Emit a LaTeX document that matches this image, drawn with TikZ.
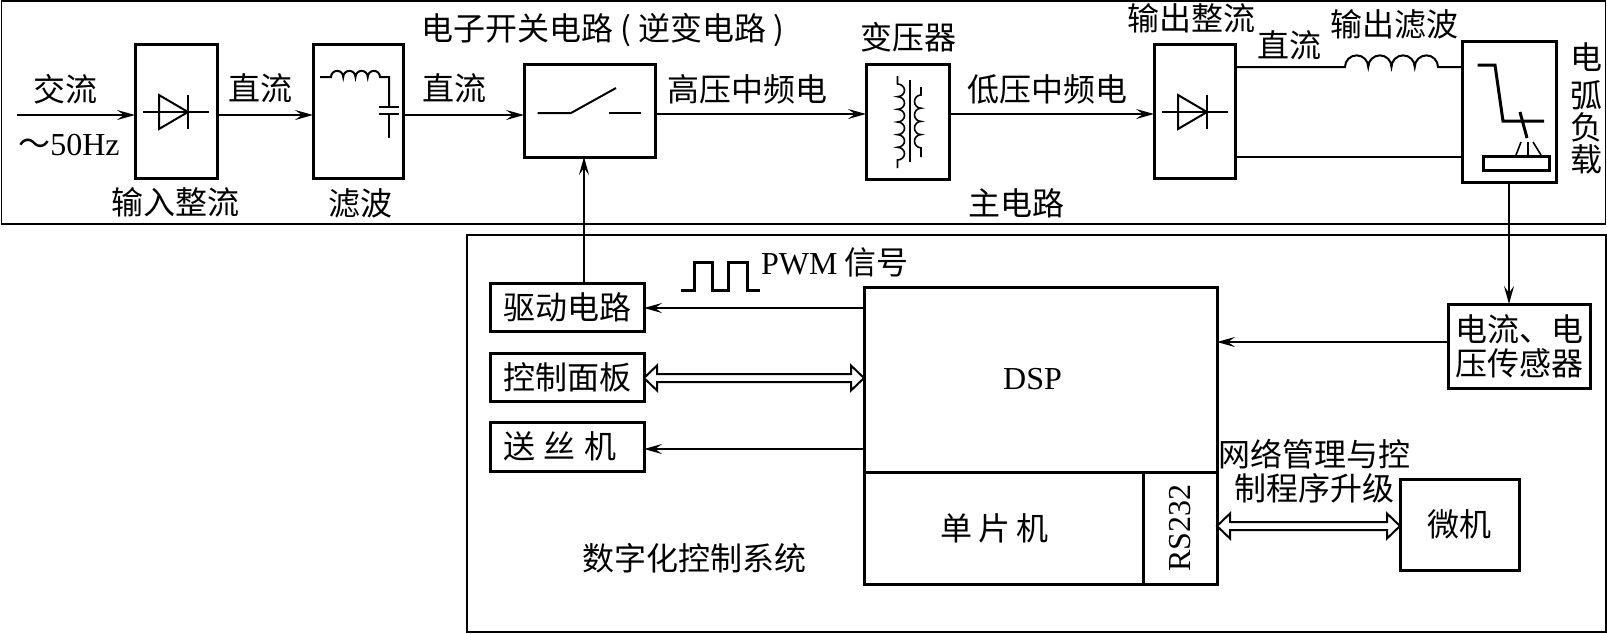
\documentclass[tikz,border=0pt]{standalone}
\usepackage{fontspec}
\setmainfont{Noto Sans CJK SC}
\newfontfamily\lat{Liberation Serif}
\usetikzlibrary{arrows.meta,calc,positioning}
\tikzset{
  x=1pt,y=-1pt,
  every node/.style={font=\fontsize{32}{34}\selectfont,inner sep=0pt,outer sep=0pt},
  box/.style={draw=black,line width=3pt,anchor=north west,align=center},
  frame/.style={draw=black,line width=1.6pt,anchor=north west},
  wire/.style={line width=2pt,draw=black},
  arrow/.style={wire,-{Stealth[length=18pt,width=10pt,inset=7pt]}},
  sym/.style={line width=2pt,draw=black},
  thicksym/.style={line width=3pt,draw=black,line join=miter},
  thinsym/.style={line width=1.6pt,draw=black},
  dbl/.style={line width=2pt,draw=black,fill=white,line join=miter},
  lbl/.style={anchor=center,align=center}
}
\newcommand{\dblarrow}[2]{%
  \draw[dbl] (#1) -- ($(#1)+(13,-12.5)$) -- ($(#1)+(13,-4)$) -- ($(#2)+(-13,-4)$) -- ($(#2)+(-13,-12.5)$) -- (#2)
   -- ($(#2)+(-13,12.5)$) -- ($(#2)+(-13,4)$) -- ($(#1)+(13,4)$) -- ($(#1)+(13,12.5)$) -- cycle;}
\newcommand{\diode}[1]{%
  \draw[sym] ($(#1)+(-33,0)$) -- ($(#1)+(33,0)$);
  \draw[sym] ($(#1)+(-17,-17)$) -- ($(#1)+(12,0)$) -- ($(#1)+(-17,17)$) -- cycle;
  \draw[sym] ($(#1)+(12,-17)$) -- ($(#1)+(12,17)$);}
\begin{document}
\begin{tikzpicture}
\useasboundingbox (0,0) rectangle (1607,633);
\fill[white] (0,0) rectangle (1607,633);

% frames
\node[frame,minimum width=1604,minimum height=223] (mainframe) at (1.5,1) {};
\node[frame,minimum width=1139,minimum height=397] (ctrlframe) at (467,235) {};

% main circuit boxes
\node[box,minimum width=82,minimum height=134] (inrect) at (135,44) {};
\node[box,minimum width=90,minimum height=134] (filter) at (313,44) {};
\node[box,minimum width=131,minimum height=93] (switch) at (524,64) {};
\node[box,minimum width=83,minimum height=115] (trans) at (866,64) {};
\node[box,minimum width=81,minimum height=134] (outrect) at (1154,44) {};
\node[box,minimum width=94,minimum height=141] (load) at (1462,41) {};

% control boxes
\node[box,minimum width=154,minimum height=48] (drive) at (490,283) {驱动电路};
\node[box,minimum width=154,minimum height=48] (panel) at (490,353) {控制面板};
\node[box,minimum width=154,minimum height=49] (feeder) at (490,422) {送\hspace{9pt}丝\hspace{9pt}机\hspace{14pt}};
\node[box,minimum width=353,minimum height=185] (dsp) at (864,287) {{\lat DSP}\hspace{16pt}};
\node[box,minimum width=279,minimum height=112] (mcu) at (864,472) {单\hspace{6pt}片\hspace{6pt}机\hspace{18pt}};
\node[box,minimum width=74,minimum height=112] (rs) at (1143,472) {\rotatebox{90}{\lat RS232}};
\node[box,minimum width=142,minimum height=84] (sensor) at (1448,304) {};
\node[lbl] (sensort) at (1519,346) {电流、电\\压传感器};
\node[box,minimum width=119,minimum height=91] (pc) at (1400,479) {微机};

% labels
\node[lbl] (tac) at (66,89) {交流};
\node[lbl] (tfreq) at (69,145) {～{\lat 50Hz}};
\node[lbl] (tdc1) at (260,88) {直流};
\node[lbl] (tdc2) at (454.5,88) {直流};
\node[lbl] (tinrect) at (175.6,202) {输入整流};
\node[lbl] (tfilter) at (360,203) {滤波};
\node[lbl] (tinv) at (603,30) {电子开关电路 ( 逆变电路 )};
\node[lbl] (thv) at (747,89) {高压中频电};
\node[lbl] (ttrans) at (908,37) {变压器};
\node[lbl] (tlv) at (1047,89) {低压中频电};
\node[lbl] (toutrect) at (1191,18) {输出整流};
\node[lbl] (tdc3) at (1289,45) {直流};
\node[lbl] (toutf) at (1394,24) {输出滤波};
\node[lbl] (tmain) at (1016,203) {主电路};
\node[lbl] (ta1) at (1586,57) {电};
\node[lbl] (ta2) at (1586,95) {弧};
\node[lbl] (ta3) at (1586,127) {负};
\node[lbl] (ta4) at (1586,159) {载};
\node[lbl] (tpwm) at (835,262) {{\lat PWM} 信号};
\node[lbl] (tnet) at (1314,471) {网络管理与控\\制程序升级};
\node[lbl] (tdig) at (694,558) {数字化控制系统};

% connectors
\coordinate (acin) at (17,115);
\draw[arrow] (acin) -- (inrect.west |- acin);
\draw[arrow] (inrect.east |- acin) -- (filter.west |- acin);
\draw[arrow] (filter.east |- acin) -- (switch.west |- acin);
\coordinate (hv) at (655,114);
\draw[arrow] (switch.east |- hv) -- (trans.west |- hv);
\draw[arrow] (trans.east |- hv) -- (outrect.west |- hv);
\coordinate (dctop) at (1235,67);
\coordinate (dcbot) at (1235,157);
\coordinate (la) at (1345,67);
\coordinate (lb) at (1438,67);
\draw[wire] (outrect.east |- dctop) -- (la)
  arc[start angle=180,end angle=360,radius=11.625]
  arc[start angle=180,end angle=360,radius=11.625]
  arc[start angle=180,end angle=360,radius=11.625]
  arc[start angle=180,end angle=360,radius=11.625]
  -- (load.west |- lb);
\draw[wire] (outrect.east |- dcbot) -- (load.west |- dcbot);
\coordinate (sw) at (584,0);
\draw[arrow] (sw |- drive.north) -- (sw |- switch.south);
\coordinate (sn) at (1509,0);
\draw[arrow] (sn |- load.south) -- (sn |- sensor.north);
\coordinate (y1) at (0,308);
\draw[arrow] (dsp.west |- y1) -- (drive.east |- y1);
\coordinate (y3) at (0,449);
\draw[arrow] (dsp.west |- y3) -- (feeder.east |- y3);
\coordinate (y4) at (0,342);
\draw[arrow] (sensor.west |- y4) -- (dsp.east |- y4);
\coordinate (y5) at (0,378);
\coordinate (pa) at (panel.east |- y5);
\coordinate (pb) at (dsp.west |- y5);
\dblarrow{pa}{pb}
\coordinate (y6) at (0,526);
\coordinate (ra) at (rs.east |- y6);
\coordinate (rb) at (pc.west |- y6);
\dblarrow{ra}{rb}

% diodes
\coordinate (d1) at (176,112);
\coordinate (d2) at (1195,112);
\diode{d1}
\diode{d2}

% filter symbol
\draw[sym] (320,77) -- (331,77)
  arc[start angle=180,end angle=360,radius=6.125]
  arc[start angle=180,end angle=360,radius=6.125]
  arc[start angle=180,end angle=360,radius=6.125]
  arc[start angle=180,end angle=360,radius=6.125]
  -- (389,77) -- (389,107);
\draw[sym] (379,107) -- (399,107);
\draw[sym] (379,114) -- (399,114);
\draw[sym] (389,114) -- (389,138);

% switch symbol
\draw[sym] (537.5,113) -- (571,113) -- (616,88);
\draw[sym] (609,113) -- (641,113);

% transformer symbol
\draw[sym] (910,80) -- (910,162);
\draw[thinsym] (897.5,76) -- (897.5,84)
  \foreach \i in {1,...,6} {arc[start angle=270,end angle=450,x radius=7,y radius=6.33]}
  -- (897.5,168);
\draw[thinsym] (921,87) -- (921,95)
  \foreach \i in {1,...,4} {arc[start angle=270,end angle=90,x radius=6.5,y radius=6.6]}
  -- (921,157);

% torch
\draw[thicksym] (1477.5,65) -- (1495,65) -- (1503,121) -- (1544,121);
\draw[thicksym] (1520,112) -- (1527,138);
\draw[thinsym] (1521,142) -- (1516,155);
\draw[thinsym] (1528,142) -- (1528,155);
\draw[thinsym] (1533,142) -- (1541,155);
\draw[thicksym] (1483,156) rectangle (1549,170);

% PWM
\draw[thicksym] (681,290) -- (694,290) -- (694,262) -- (712,262) -- (712,290) -- (728,290) -- (728,262) -- (747,262) -- (747,290) -- (760,290);
\end{tikzpicture}
\end{document}
